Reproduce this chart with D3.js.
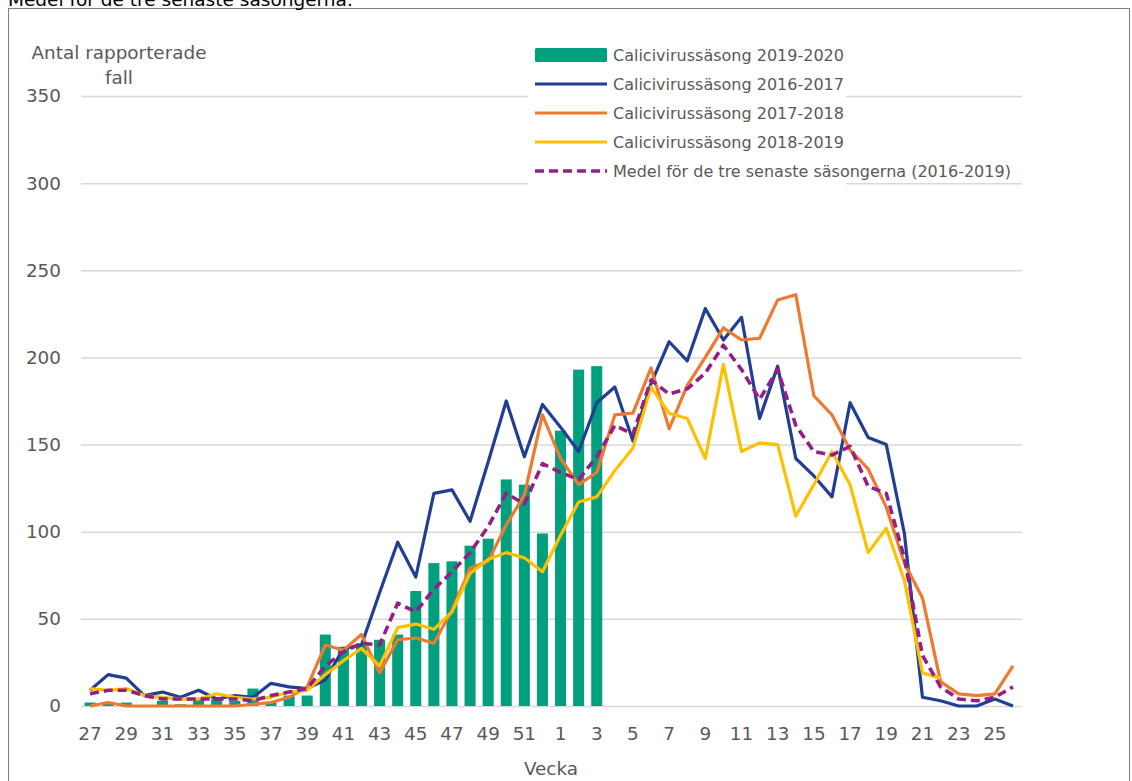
<!DOCTYPE html>
<html>
<head>
<meta charset="utf-8">
<script src="https://cdn.jsdelivr.net/npm/d3@7"></script>
<style>
  html, body { margin: 0; padding: 0; background: #fff; }
  svg { display: block; }
  text { font-family: "DejaVu Sans", Verdana, sans-serif; }
</style>
</head>
<body>
<svg id="chart" width="1132" height="781"></svg>
<script>
// ---- data ----
const weeks = ["27","28","29","30","31","32","33","34","35","36","37","38","39","40",
  "41","42","43","44","45","46","47","48","49","50","51","52",
  "1","2","3","4","5","6","7","8","9","10","11","12","13","14","15","16","17",
  "18","19","20","21","22","23","24","25","26"];

const tickWeeks = ["27","29","31","33","35","37","39","41","43","45","47","49","51",
  "1","3","5","7","9","11","13","15","17","19","21","23","25"];

const yTicks = [0, 50, 100, 150, 200, 250, 300, 350];

const seriesNames = [
  "Calicivirussäsong 2019-2020",
  "Calicivirussäsong 2016-2017",
  "Calicivirussäsong 2017-2018",
  "Calicivirussäsong 2018-2019",
  "Medel för de tre senaste säsongerna (2016-2019)"
];

// 2019-2020 (bars), weeks 27 .. 3
const season1920 = [2,2,2,0,3,1,4,4,3,10,2,6,6,41,34,36,38,41,66,82,83,92,96,130,127,99,158,193,195];

const season1617 = [9,18,16,6,8,5,9,4,6,5,13,11,10,15,33,35,65,94,74,122,124,106,140,175,143,173,
  160,146,174,183,152,185,209,198,228,210,223,165,195,142,132,120,174,154,150,99,5,3,0,0,4,0];

const season1718 = [0,2,0,0,0,0,0,0,0,1,2,5,11,35,32,41,19,38,39,36,55,79,83,104,121,167,
  142,127,134,167,168,194,159,184,200,217,210,211,233,236,178,167,147,136,114,82,62,14,7,6,7,23];

const season1819 = [10,9,10,6,5,4,4,7,5,4,5,8,9,18,26,33,23,45,47,44,54,76,84,88,85,77,
  98,117,120,135,148,183,168,165,142,196,146,151,150,109,127,146,127,88,102,72,19,16,null,null,null,null];

const mean1619 = [7,9,9,6,4,4,4,4,4,3,6,8,10,23,31,36,35,59,54,67,77,88,103,122,116,139,
  134,130,143,161,156,187,179,182,191,207,193,176,193,161,146,144,149,126,122,85,29,11,4,3,5,11];

const colors = ["#00A07F", "#213E92", "#EE7A30", "#FFC000", "#931F87"];

// ---- drawing ----
const svg = d3.select("#chart");
const axisFont = 18.4;

// outer frame
svg.append("rect").attr("x", 8.5).attr("y", 8.5).attr("width", 1121).attr("height", 790)
  .attr("fill", "#fff").attr("stroke", "#7f7f7f").attr("stroke-width", 1);

// title line, cut by the top edge as in the reference
svg.append("text").attr("x", 8).attr("y", 6).attr("font-size", 18.5).attr("fill", "#000")
  .text("Medel för de tre senaste säsongerna.");

const x = d3.scaleBand().domain(weeks).range([81, 1022]).padding(0);
const y = d3.scaleLinear().domain([0, 350]).range([706, 96]);
const cx = w => x(w) + x.bandwidth() / 2;

// gridlines
const grid = svg.append("g").attr("transform", "translate(81,0)")
  .call(d3.axisLeft(y).tickValues(yTicks).tickSize(-941).tickFormat(""));
grid.select(".domain").remove();
grid.selectAll("line").attr("stroke", "#d9d9d9").attr("stroke-width", 1.5);

// y tick labels
const yAx = svg.append("g").attr("transform", "translate(61,0)")
  .call(d3.axisLeft(y).tickValues(yTicks).tickSize(0).tickPadding(0));
yAx.select(".domain").remove();
yAx.selectAll("text").attr("font-size", axisFont).attr("fill", "#595959")
  .attr("font-family", "DejaVu Sans, sans-serif");

// x tick labels
const xAx = svg.append("g").attr("transform", "translate(0,706)")
  .call(d3.axisBottom(x).tickValues(tickWeeks).tickSize(0).tickPadding(21));
xAx.select(".domain").remove();
xAx.selectAll("text").attr("font-size", axisFont).attr("fill", "#595959")
  .attr("font-family", "DejaVu Sans, sans-serif");

// axis titles
svg.append("text").attr("x", 119).attr("y", 59).attr("text-anchor", "middle")
  .attr("font-size", axisFont).attr("fill", "#595959").text("Antal rapporterade");
svg.append("text").attr("x", 119).attr("y", 84).attr("text-anchor", "middle")
  .attr("font-size", axisFont).attr("fill", "#595959").text("fall");
svg.append("text").attr("x", 551).attr("y", 775).attr("text-anchor", "middle")
  .attr("font-size", axisFont).attr("fill", "#595959").text("Vecka");

// bars
const barW = x.bandwidth() * 0.61;
svg.append("g").selectAll("rect")
  .data(season1920.map((v, i) => ({ w: weeks[i], v })))
  .join("rect")
  .attr("x", d => cx(d.w) - barW / 2)
  .attr("y", d => y(d.v))
  .attr("width", barW)
  .attr("height", d => y(0) - y(d.v))
  .attr("fill", colors[0]);

// lines
const lineGen = d3.line()
  .defined(d => d.v !== null)
  .x(d => cx(d.w))
  .y(d => y(d.v));

const lineSeries = [
  { vals: season1617, color: colors[1], dash: null, width: 3.2 },
  { vals: season1718, color: colors[2], dash: null, width: 3.2 },
  { vals: season1819, color: colors[3], dash: null, width: 3.2 },
  { vals: mean1619, color: colors[4], dash: "9,5", width: 3.6 }
];
lineSeries.forEach(s => {
  svg.append("path")
    .datum(s.vals.map((v, i) => ({ w: weeks[i], v })))
    .attr("d", lineGen)
    .attr("fill", "none")
    .attr("stroke", s.color)
    .attr("stroke-width", s.width)
    .attr("stroke-linejoin", "round")
    .attr("stroke-dasharray", s.dash);
});

// legend
const legend = svg.append("g");
legend.append("rect").attr("x", 528).attr("y", 40).attr("width", 318).attr("height", 147)
  .attr("fill", "#fff");
const rowY = [55, 84, 113, 142, 171];
seriesNames.forEach((name, i) => {
  const g = legend.append("g").attr("transform", `translate(0,${rowY[i]})`);
  if (i === 0) {
    g.append("rect").attr("x", 535).attr("y", -7).attr("width", 72).attr("height", 14)
      .attr("rx", 1.5).attr("fill", colors[0]);
  } else {
    g.append("line").attr("x1", 535).attr("x2", 607).attr("y1", 0).attr("y2", 0)
      .attr("stroke", colors[i]).attr("stroke-width", i === 4 ? 3.6 : 3.2)
      .attr("stroke-dasharray", i === 4 ? "9,5" : null);
  }
  g.append("text").attr("x", 613).attr("y", 6).attr("font-size", 16)
    .attr("fill", "#595959").text(name);
});
</script>
</body>
</html>
